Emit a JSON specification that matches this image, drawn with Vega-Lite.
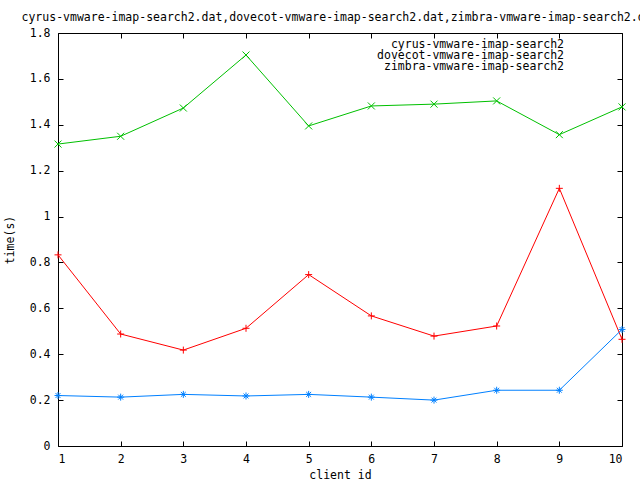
{
  "$schema": "https://vega.github.io/schema/vega-lite/v6.json",
  "autosize": "none",
  "width": 564,
  "height": 413,
  "padding": {"left": 58, "top": 33, "right": 18, "bottom": 34},
  "background": "white",
  "title": {
    "text": "cyrus-vmware-imap-search2.dat,dovecot-vmware-imap-search2.dat,zimbra-vmware-imap-search2.dat",
    "font": "DejaVu Sans Mono",
    "fontSize": 11.5,
    "fontWeight": "normal",
    "color": "black",
    "anchor": "middle",
    "offset": 4
  },
  "config": {
    "view": {"stroke": "black", "strokeWidth": 1},
    "axis": {
      "labelFont": "DejaVu Sans Mono",
      "labelFontSize": 11.5,
      "labelColor": "black",
      "titleFont": "DejaVu Sans Mono",
      "titleFontSize": 11.5,
      "titleFontWeight": "normal",
      "titleColor": "black",
      "tickColor": "black",
      "domainColor": "black",
      "grid": false,
      "tickSize": -5
    }
  },
  "data": {
    "values": [
      {"id": 1, "series": "cyrus-vmware-imap-search2", "time": 0.833},
      {"id": 2, "series": "cyrus-vmware-imap-search2", "time": 0.488},
      {"id": 3, "series": "cyrus-vmware-imap-search2", "time": 0.418},
      {"id": 4, "series": "cyrus-vmware-imap-search2", "time": 0.513},
      {"id": 5, "series": "cyrus-vmware-imap-search2", "time": 0.747},
      {"id": 6, "series": "cyrus-vmware-imap-search2", "time": 0.567},
      {"id": 7, "series": "cyrus-vmware-imap-search2", "time": 0.479},
      {"id": 8, "series": "cyrus-vmware-imap-search2", "time": 0.523},
      {"id": 9, "series": "cyrus-vmware-imap-search2", "time": 1.123},
      {"id": 10, "series": "cyrus-vmware-imap-search2", "time": 0.465},
      {"id": 1, "series": "dovecot-vmware-imap-search2", "time": 1.316},
      {"id": 2, "series": "dovecot-vmware-imap-search2", "time": 1.350},
      {"id": 3, "series": "dovecot-vmware-imap-search2", "time": 1.473},
      {"id": 4, "series": "dovecot-vmware-imap-search2", "time": 1.704},
      {"id": 5, "series": "dovecot-vmware-imap-search2", "time": 1.395},
      {"id": 6, "series": "dovecot-vmware-imap-search2", "time": 1.482},
      {"id": 7, "series": "dovecot-vmware-imap-search2", "time": 1.490},
      {"id": 8, "series": "dovecot-vmware-imap-search2", "time": 1.504},
      {"id": 9, "series": "dovecot-vmware-imap-search2", "time": 1.357},
      {"id": 10, "series": "dovecot-vmware-imap-search2", "time": 1.478},
      {"id": 1, "series": "zimbra-vmware-imap-search2", "time": 0.220},
      {"id": 2, "series": "zimbra-vmware-imap-search2", "time": 0.213},
      {"id": 3, "series": "zimbra-vmware-imap-search2", "time": 0.225},
      {"id": 4, "series": "zimbra-vmware-imap-search2", "time": 0.218},
      {"id": 5, "series": "zimbra-vmware-imap-search2", "time": 0.225},
      {"id": 6, "series": "zimbra-vmware-imap-search2", "time": 0.213},
      {"id": 7, "series": "zimbra-vmware-imap-search2", "time": 0.200},
      {"id": 8, "series": "zimbra-vmware-imap-search2", "time": 0.243},
      {"id": 9, "series": "zimbra-vmware-imap-search2", "time": 0.243},
      {"id": 10, "series": "zimbra-vmware-imap-search2", "time": 0.508}
    ]
  },
  "layer": [
    {
      "mark": {"type": "line", "strokeWidth": 1, "clip": true},
      "encoding": {
        "x": {
          "field": "id", "type": "quantitative",
          "scale": {"domain": [1, 10], "nice": false, "zero": false},
          "axis": {"orient": "bottom", "values": [1, 2, 3, 4, 5, 6, 7, 8, 9, 10], "title": "client id", "labelPadding": 12, "titlePadding": 5, "domain": false}
        },
        "y": {
          "field": "time", "type": "quantitative",
          "scale": {"domain": [0, 1.8], "nice": false, "zero": false},
          "axis": {"orient": "left", "values": [0, 0.2, 0.4, 0.6, 0.8, 1, 1.2, 1.4, 1.6, 1.8], "format": "~g", "title": "time(s)", "labelPadding": 13, "titlePadding": 14, "domain": false}
        },
        "color": {
          "field": "series", "type": "nominal",
          "scale": {
            "domain": ["cyrus-vmware-imap-search2", "dovecot-vmware-imap-search2", "zimbra-vmware-imap-search2"],
            "range": ["#ff0000", "#00c000", "#0080ff"]
          },
          "legend": {
            "orient": "none",
            "legendX": 463,
            "legendY": 7,
            "title": null,
            "labelFont": "DejaVu Sans Mono",
            "labelFontSize": 11.5,
            "labelColor": "black",
            "labelAlign": "right",
            "labelLimit": 400,
            "labelOffset": 0,
            "symbolOffset": 44,
            "symbolSize": 1681,
            "symbolStrokeWidth": 1,
            "clipHeight": 10,
            "rowPadding": -3,
            "encode": {
              "entries": {
                "update": {"clip": {"value": false}}
              },
              "labels": {
                "update": {"dx": {"value": -43}}
              },
              "symbols": {
                "update": {
                  "shape": {"signal": "datum.value == 'cyrus-vmware-imap-search2' ? 'M-1,0H1M0,-0.17V0.17' : datum.value == 'dovecot-vmware-imap-search2' ? 'M-1,0H1M-0.15,-0.15L0.15,0.15M-0.15,0.15L0.15,-0.15' : 'M-1,0H1M0,-0.17V0.17M-0.12,-0.12L0.12,0.12M-0.12,0.12L0.12,-0.12'"},
                  "fill": {"value": "transparent"}
                }
              }
            }
          }
        }
      }
    },
    {
      "mark": {"type": "point", "filled": false, "strokeWidth": 1, "size": 49, "opacity": 1, "clip": false},
      "encoding": {
        "x": {
          "field": "id", "type": "quantitative",
          "axis": {"orient": "top", "values": [1, 2, 3, 4, 5, 6, 7, 8, 9, 10], "labels": false, "title": null, "domain": false}
        },
        "y": {
          "field": "time", "type": "quantitative",
          "axis": {"orient": "right", "values": [0, 0.2, 0.4, 0.6, 0.8, 1, 1.2, 1.4, 1.6, 1.8], "labels": false, "title": null, "domain": false}
        },
        "color": {"field": "series", "type": "nominal"},
        "shape": {
          "field": "series", "type": "nominal",
          "scale": {
            "domain": ["cyrus-vmware-imap-search2", "dovecot-vmware-imap-search2", "zimbra-vmware-imap-search2"],
            "range": ["M-1,0H1M0,-1V1", "M-1,-1L1,1M-1,1L1,-1", "M-1,0H1M0,-1V1M-0.7,-0.7L0.7,0.7M-0.7,0.7L0.7,-0.7"]
          },
          "legend": null
        }
      }
    }
  ],
  "resolve": {"axis": {"x": "independent", "y": "independent"}}
}
